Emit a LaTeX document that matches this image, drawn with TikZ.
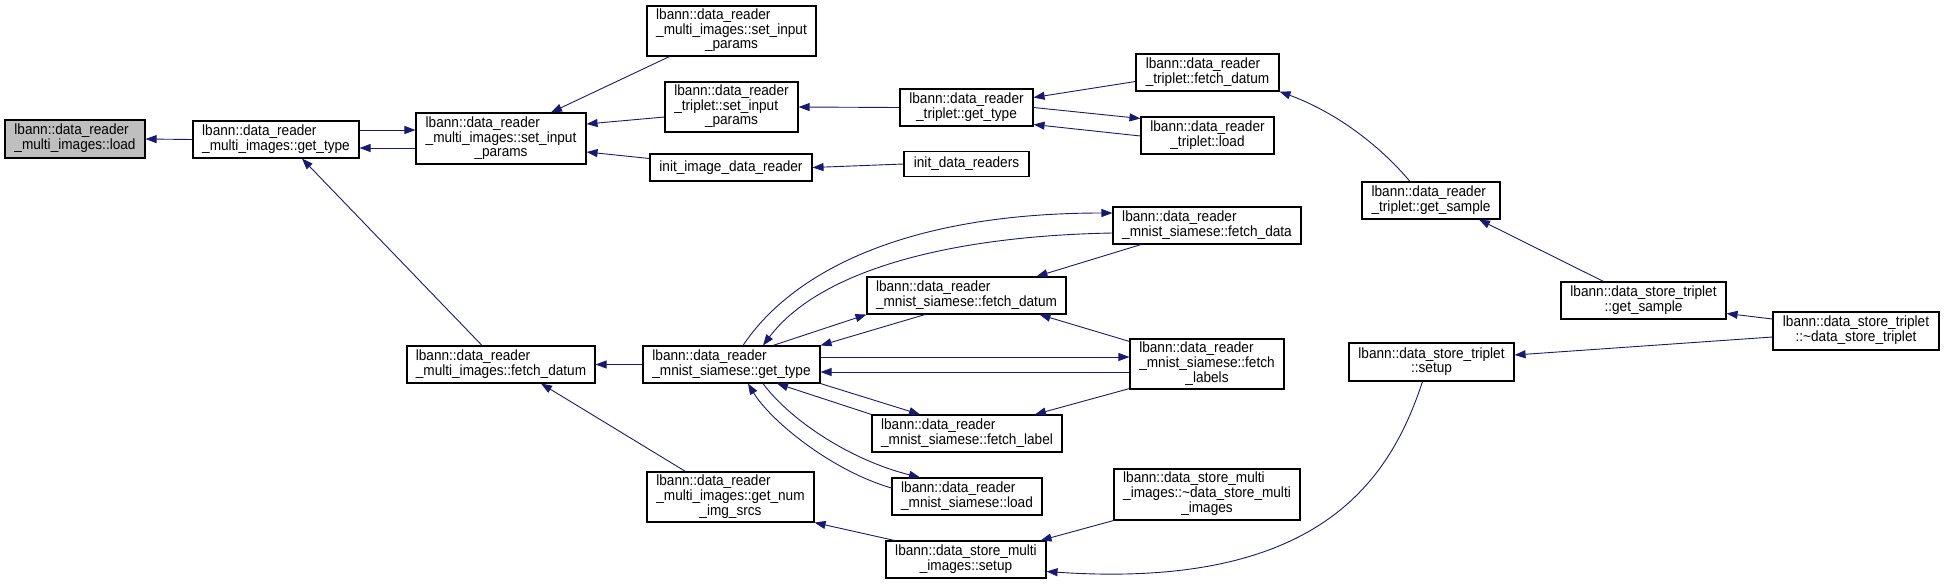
\documentclass[tikz,border=0pt]{standalone}
\usepackage{fontspec}
\usepackage{graphicx}
\setmainfont{Liberation Sans}
\usetikzlibrary{arrows.meta,calc}
\definecolor{edgeblue}{HTML}{191970}
\definecolor{loadgray}{HTML}{BFBFBF}
\newcommand{\Lone}[1]{\scalebox{0.92}[1]{#1}}
\newcommand{\Ltwo}[2]{\scalebox{0.92}[1]{\begin{tabular}{@{}l@{}}#1\\\multicolumn{1}{@{}c@{}}{#2}\end{tabular}}}
\newcommand{\Lthree}[3]{\scalebox{0.92}[1]{\begin{tabular}{@{}l@{}}#1\\#2\\\multicolumn{1}{@{}c@{}}{#3}\end{tabular}}}
\renewcommand{\arraystretch}{1}
\tikzset{
  box/.style={draw=black, line width=1.1pt, fill=white, inner sep=0pt,
    font=\fontsize{14.8}{14}\selectfont},
  conn/.style={draw=edgeblue, line width=0.9pt, -{Triangle[length=11pt,width=8pt]}},
}
\begin{document}
\begin{tikzpicture}[x=1pt,y=-1pt]
\useasboundingbox (0,0) rectangle (1944,584);
% nodes
\node[box, fill=loadgray, minimum width=140pt, minimum height=38pt] (load) at (75,139) {\Ltwo{lbann::data\_reader}{\_multi\_images::load}};
\node[box, minimum width=166pt, minimum height=37pt] (migt) at (276,139.5) {\Ltwo{lbann::data\_reader}{\_multi\_images::get\_type}};
\node[box, minimum width=170pt, minimum height=51pt] (misip) at (501,138.5) {\Lthree{lbann::data\_reader}{\_multi\_images::set\_input}{\_params}};
\node[box, minimum width=169pt, minimum height=50pt] (misiptop) at (731.5,31) {\Lthree{lbann::data\_reader}{\_multi\_images::set\_input}{\_params}};
\node[box, minimum width=133pt, minimum height=50pt] (tsip) at (731.5,107) {\Lthree{lbann::data\_reader}{\_triplet::set\_input}{\_params}};
\node[box, minimum width=162pt, minimum height=27pt] (iidr) at (731,167.5) {\Lone{init\_image\_data\_reader}};
\node[box, minimum width=133pt, minimum height=37pt] (tgt) at (966.5,107.5) {\Ltwo{lbann::data\_reader}{\_triplet::get\_type}};
\node[box, minimum width=125pt, minimum height=25pt] (idr) at (966.5,164) {\Lone{init\_data\_readers}};
\node[box, minimum width=143pt, minimum height=37pt] (tfd) at (1207.5,72.5) {\Ltwo{lbann::data\_reader}{\_triplet::fetch\_datum}};
\node[box, minimum width=133pt, minimum height=37pt] (tload) at (1207.5,135.5) {\Ltwo{lbann::data\_reader}{\_triplet::load}};
\node[box, minimum width=138pt, minimum height=37pt] (tgs) at (1431,200.5) {\Ltwo{lbann::data\_reader}{\_triplet::get\_sample}};
\node[box, minimum width=165pt, minimum height=37pt] (dstgs) at (1643.5,300.5) {\Ltwo{lbann::data\_store\_triplet}{::get\_sample}};
\node[box, minimum width=166pt, minimum height=38pt] (dstd) at (1856,331) {\Ltwo{lbann::data\_store\_triplet}{::\textasciitilde data\_store\_triplet}};
\node[box, minimum width=165pt, minimum height=38pt] (dstsetup) at (1431.5,362) {\Ltwo{lbann::data\_store\_triplet}{::setup}};
\node[box, minimum width=188pt, minimum height=37pt] (mifd) at (501,364.5) {\Ltwo{lbann::data\_reader}{\_multi\_images::fetch\_datum}};
\node[box, minimum width=177pt, minimum height=37pt] (mngt) at (731.5,364.5) {\Ltwo{lbann::data\_reader}{\_mnist\_siamese::get\_type}};
\node[box, minimum width=188pt, minimum height=37pt] (mnfdata) at (1207,225.5) {\Ltwo{lbann::data\_reader}{\_mnist\_siamese::fetch\_data}};
\node[box, minimum width=199pt, minimum height=37pt] (mnfdatum) at (966.5,295.5) {\Ltwo{lbann::data\_reader}{\_mnist\_siamese::fetch\_datum}};
\node[box, minimum width=154pt, minimum height=50pt] (mnflabels) at (1207,364) {\Lthree{lbann::data\_reader}{\_mnist\_siamese::fetch}{\_labels}};
\node[box, minimum width=190pt, minimum height=37pt] (mnflabel) at (967,433.5) {\Ltwo{lbann::data\_reader}{\_mnist\_siamese::fetch\_label}};
\node[box, minimum width=150pt, minimum height=37pt] (mnload) at (967,496.5) {\Ltwo{lbann::data\_reader}{\_mnist\_siamese::load}};
\node[box, minimum width=167pt, minimum height=50pt] (migns) at (730.5,497) {\Lthree{lbann::data\_reader}{\_multi\_images::get\_num}{\_img\_srcs}};
\node[box, minimum width=186pt, minimum height=51pt] (dsmd) at (1207,494.5) {\Lthree{lbann::data\_store\_multi}{\_images::\textasciitilde data\_store\_multi}{\_images}};
\node[box, minimum width=160pt, minimum height=37pt] (dsmsetup) at (966,559.5) {\Ltwo{lbann::data\_store\_multi}{\_images::setup}};
% connectors
\draw[conn] (migt.west) -- (load.east);
\draw[conn] ($(misip.west)+(0,9.5)$) -- ($(migt.east)+(0,8.5)$);
\draw[conn] ($(migt.east)+(0,-9.5)$) -- ($(misip.west)+(0,-8.5)$);
\draw[conn] ($(misiptop.south)+(-62,0)$) -- ($(misip.north)+(50,0)$);
\draw[conn] ($(tsip.west)+(0,10)$) -- ($(misip.east)+(0,-14.5)$);
\draw[conn] ($(iidr.west)+(0,-9)$) -- ($(misip.east)+(0,13.5)$);
\draw[conn] (tgt.west) -- (tsip.east);
\draw[conn] (idr.west) -- (iidr.east);
\draw[conn] ($(tfd.west)+(0,9)$) -- ($(tgt.east)+(0,-10)$);
\draw[conn] (tgt.east) -- ($(tload.west)+(0,-17)$);
\draw[conn] ($(tload.west)+(0,0.5)$) -- ($(tgt.east)+(0,17)$);
\draw[conn] ($(tgs.north)+(-21,0)$) .. controls (1375,140) and (1330,110) .. (tfd.south east);
\draw[conn] ($(dstgs.north)+(-40,0)$) -- ($(tgs.south)+(48,0)$);
\draw[conn] ($(dstd.west)+(0,-12)$) -- ($(dstgs.east)+(0,13)$);
\draw[conn] ($(dstd.west)+(0,6)$) -- ($(dstsetup.east)+(0,-7)$);
\draw[conn] ($(dstsetup.south)+(-9,0)$) .. controls (1390,480) and (1320,590) .. ($(dsmsetup.east)+(0,12)$);
\draw[conn] (dsmd.south west) -- ($(dsmsetup.north east)+(-6,0)$);
\draw[conn] ($(dsmsetup.north west)+(9,0)$) -- (migns.south east);
\draw[conn] ($(migns.north)+(-45,0)$) -- ($(mifd.south)+(40,0)$);
\draw[conn] (mngt.west) -- (mifd.east);
\draw[conn] ($(mifd.north)+(-19,0)$) -- ($(migt.south)+(26,0)$);
\draw[conn] ($(mngt.north)+(11.5,0)$) .. controls (790,275) and (900,213) .. ($(mnfdata.west)+(0,-12.5)$);
\draw[conn] ($(mnfdata.west)+(0,7.5)$) .. controls (950,236) and (820,270) .. ($(mngt.north)+(31.5,0)$);
\draw[conn] ($(mngt.north)+(41.5,0)$) -- (mnfdatum.south west);
\draw[conn] ($(mnfdatum.south)+(-41.5,0)$) -- (mngt.north east);
\draw[conn] ($(mnfdata.south)+(-66,0)$) -- ($(mnfdatum.north)+(70,0)$);
\draw[conn] ($(mnflabels.north west)+(0,3)$) -- ($(mnfdatum.south)+(73,0)$);
\draw[conn] ($(mngt.east)+(0,-7.5)$) -- ($(mnflabels.west)+(0,-7)$);
\draw[conn] ($(mnflabels.west)+(0,8)$) -- ($(mngt.east)+(0,7.5)$);
\draw[conn] (mngt.south east) -- ($(mnflabel.north)+(-47,0)$);
\draw[conn] (mnflabel.north west) -- ($(mngt.south)+(45.5,0)$);
\draw[conn] ($(mnflabels.south west)+(0,-1)$) -- ($(mnflabel.north)+(68,0)$);
\draw[conn] ($(mngt.south)+(31.5,0)$) .. controls (790,420) and (850,460) .. ($(mnload.north)+(-47,0)$);
\draw[conn] ($(mnload.west)+(0,-8.5)$) .. controls (830,470) and (770,420) .. ($(mngt.south)+(16.5,0)$);
\end{tikzpicture}
\end{document}
